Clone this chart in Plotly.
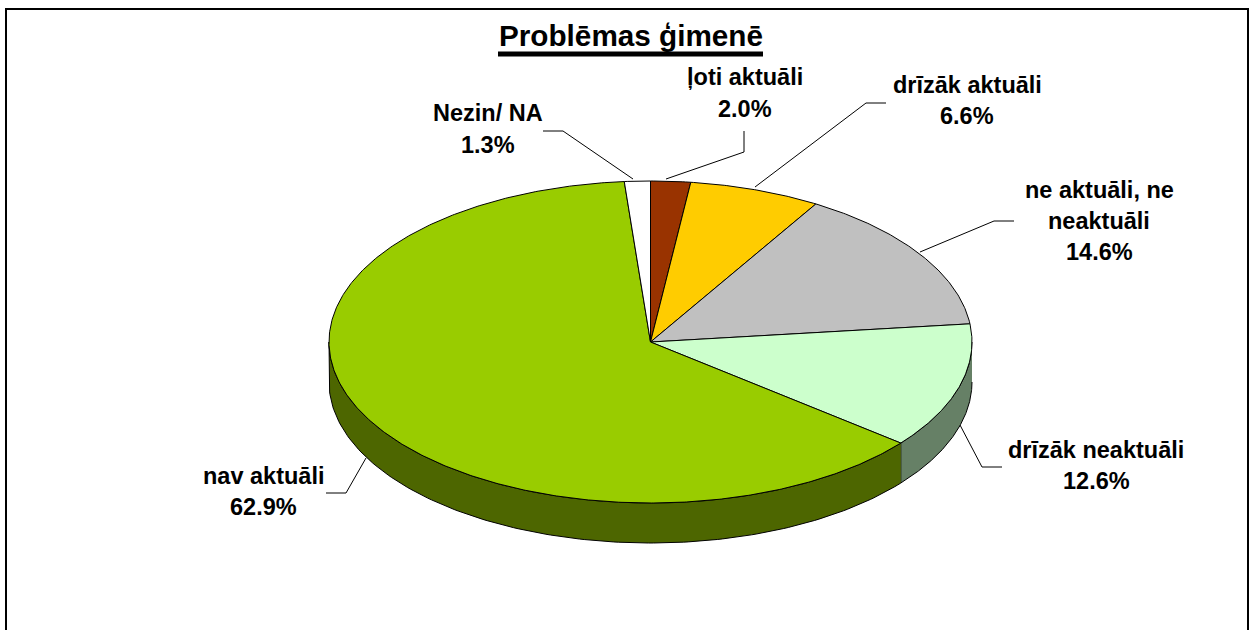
import numpy as np
import plotly.graph_objects as go

TITLE = "Problēmas ģimenē"
CATEGORIES = ["ļoti aktuāli", "drīzāk aktuāli", "ne aktuāli, ne neaktuāli",
              "drīzāk neaktuāli", "nav aktuāli", "Nezin/ NA"]
VALUES = [2.0, 6.6, 14.6, 12.6, 62.9, 1.3]
TOP_COLORS = ["#993300", "#FFCC00", "#C0C0C0", "#CCFFCC", "#99CC00", "#FFFFFF"]
SIDE_COLORS = ["#4D1A00", "#806600", "#606060", "#668066", "#4D6600", "#808080"]

# geometry of the tilted pie, in page pixels
CX, CY, RX, RY, DEPTH = 650.5, 342, 321.5, 161, 40
FONT = "Liberation Sans, Arial, sans-serif"

# category index -> wrapped label lines, centre x, y per line
LABEL_POS = {
    0: (["ļoti aktuāli"], 745, [77, 109]),
    1: (["drīzāk aktuāli"], 967, [85, 116]),
    2: (["ne aktuāli, ne", "neaktuāli"], 1099, [190, 221, 252]),
    3: (["drīzāk neaktuāli"], 1096, [450, 481]),
    4: (["nav aktuāli"], 263, [476, 507]),
    5: (["Nezin/ NA"], 488, [113, 145]),
}
LEADERS = [
    ([744, 744, 666], [131, 152, 179]),
    ([886, 866, 755], [103, 103, 187]),
    ([1014, 994, 920], [221, 221, 252]),
    ([1002, 982, 960], [467, 467, 425]),
    ([326, 346, 366], [493, 493, 458]),
    ([543, 563, 633], [131, 131, 179]),
]

total = sum(VALUES)
edges = np.concatenate([[0], np.cumsum(VALUES)]) / total * 2 * np.pi


def ex(a):
    return CX + RX * np.sin(a)


def ey(a):
    return CY - RY * np.cos(a)


fig = go.Figure()

# visible rim: lower half of the ellipse only
for i in range(len(VALUES)):
    a0, a1 = max(edges[i], np.pi / 2), min(edges[i + 1], 3 * np.pi / 2)
    if a1 <= a0:
        continue
    a = np.linspace(a0, a1, 160)
    xs = np.concatenate([ex(a), ex(a[::-1])])
    ys = np.concatenate([ey(a), ey(a[::-1]) + DEPTH])
    fig.add_trace(go.Scatter(
        x=xs, y=ys, mode="lines", fill="toself", fillcolor=SIDE_COLORS[i],
        line=dict(color="#000000", width=1), hoverinfo="skip", showlegend=False))

# top faces
for i, name in enumerate(CATEGORIES):
    a = np.linspace(edges[i], edges[i + 1], max(8, int(VALUES[i] * 8)))
    xs = np.concatenate([[CX], ex(a), [CX]])
    ys = np.concatenate([[CY], ey(a), [CY]])
    fig.add_trace(go.Scatter(
        x=xs, y=ys, mode="lines", fill="toself", fillcolor=TOP_COLORS[i],
        line=dict(color="#000000", width=1), name=name,
        hoverinfo="text", text=f"{name}: {VALUES[i]:.1f}%", showlegend=False))

# leader lines
for lx, ly in LEADERS:
    fig.add_trace(go.Scatter(x=lx, y=ly, mode="lines",
                             line=dict(color="#000000", width=1),
                             hoverinfo="skip", showlegend=False))

annotations = [dict(x=631, y=35, text=f"<b>{TITLE}</b>", showarrow=False,
                    xref="x", yref="y", xanchor="center", yanchor="middle",
                    font=dict(family=FONT, size=29.7, color="#000000"))]
for i, (lines, cx, ys) in LABEL_POS.items():
    for txt, y in zip(lines + [f"{VALUES[i]:.1f}%"], ys):
        annotations.append(dict(x=cx, y=y, text=f"<b>{txt}</b>", showarrow=False,
                                xref="x", yref="y", xanchor="center", yanchor="middle",
                                font=dict(family=FONT, size=23.5, color="#000000")))

shapes = [
    dict(type="rect", xref="x", yref="y", x0=6, y0=9, x1=1248, y1=660,
         line=dict(color="#000000", width=2), fillcolor="rgba(0,0,0,0)", layer="below"),
    dict(type="line", xref="x", yref="y", x0=498, x1=763, y0=54, y1=54,
         line=dict(color="#000000", width=5)),
]

fig.update_layout(
    width=1249, height=630, margin=dict(l=0, r=0, t=0, b=0),
    paper_bgcolor="#FFFFFF", plot_bgcolor="#FFFFFF", showlegend=False,
    xaxis=dict(range=[0, 1249], visible=False, fixedrange=True),
    yaxis=dict(range=[630, 0], visible=False, fixedrange=True),
    annotations=annotations, shapes=shapes,
)
fig.write_html("out.html", config={"displayModeBar": False},
               post_script="document.body.style.margin='0';document.body.style.overflow='hidden';")
